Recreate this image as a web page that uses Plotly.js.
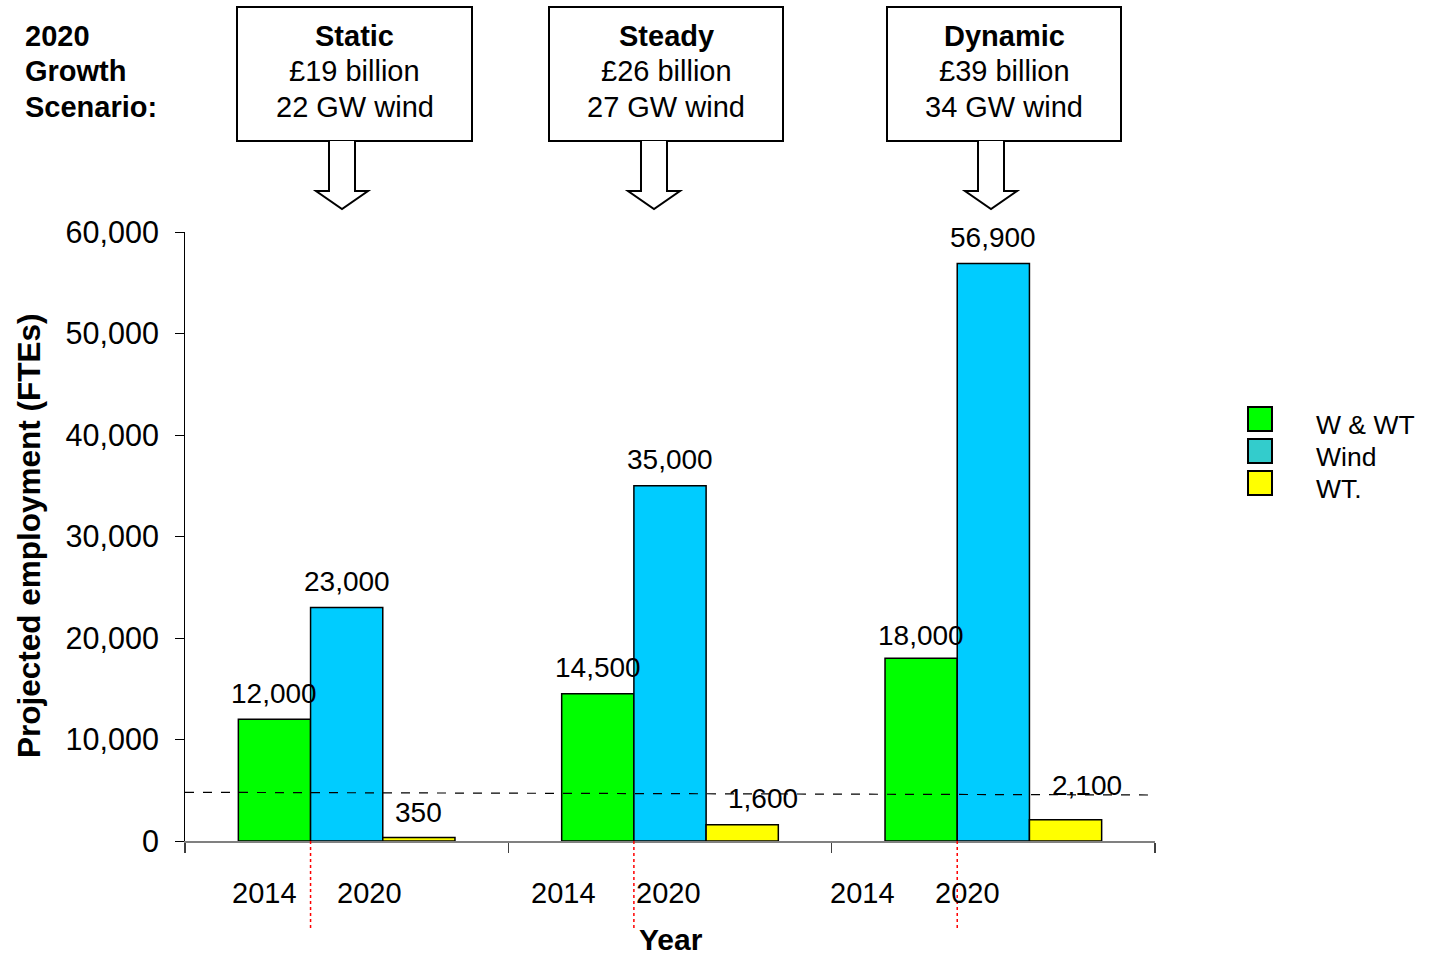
<!DOCTYPE html>
<html>
<head>
<meta charset="utf-8">
<script src="https://cdn.plot.ly/plotly-3.0.1.min.js"></script>
<style>html,body{margin:0;padding:0;background:#fff;}#chart{width:1430px;height:956px;}</style>
</head>
<body>
<div id="chart"></div>
<script>
// ---- data ----
const scenarios = ["Static", "Steady", "Dynamic"];
const scenarioCost = ["£19 billion", "£26 billion", "£39 billion"];
const scenarioWind = ["22 GW wind", "27 GW wind", "34 GW wind"];
const headerLines = ["2020", "Growth", "Scenario:"];
const seriesNames = ["W & WT", "Wind", "WT."];
const wwtValues = [12000, 14500, 18000];
const windValues = [23000, 35000, 56900];
const wtValues = [350, 1600, 2100];
const yearLabels2014 = ["2014", "2014", "2014"];
const yearLabels2020 = ["2020", "2020", "2020"];
const thresholdStart = 4800;
const thresholdEnd = 4530;

// ---- style ----
const FONT = "Liberation Sans, Arial, sans-serif";
const barColors = ["#00FF00", "#00CCFF", "#FFFF00"];
const legendColors = ["#00FF00", "#33CCCC", "#FFFF00"];
const W = 1430, H = 956;
const L = 185, R = 1155, T = 232, B = 841;
const px = v => (v - L) / (R - L);
const py = v => (B - v) / (B - T);
const bargap = 0.33;
const barW = (1 - bargap) / 3;
const lineY = [36, 71, 107];

const seriesValues = [wwtValues, windValues, wtValues];
const traces = seriesValues.map((vals, s) => ({
  type: "bar",
  name: seriesNames[s],
  x: scenarios,
  y: vals,
  marker: {color: barColors[s], line: {color: "#000", width: 1.5}},
  showlegend: false,
  hoverinfo: "x+y+name"
}));

const annotations = [];
const shapes = [];
const fmt = v => v.toLocaleString("en-US");
const labelXShift = [[0,0,0],[0,0,0],[0,21,21]];
const labelYShift = [[26,26,23],[26,26,26],[25,26,34]];
seriesValues.forEach((vals, s) => {
  vals.forEach((v, i) => {
    annotations.push({
      x: i + (s - 1) * barW, y: v, xref: "x", yref: "y",
      text: fmt(v), showarrow: false, xanchor: "center", yanchor: "middle",
      xshift: labelXShift[s][i], yshift: labelYShift[s][i],
      font: {family: FONT, size: 28, color: "#000"}
    });
  });
});

// year labels below axis
const y2014px = [264, 563, 862];
const y2020px = [369, 668, 967];
scenarios.forEach((c, i) => {
  annotations.push({x: px(y2014px[i]), y: py(893), xref: "paper", yref: "paper", text: yearLabels2014[i],
    showarrow: false, xanchor: "center", yanchor: "middle", font: {family: FONT, size: 29, color: "#000"}});
  annotations.push({x: px(y2020px[i]), y: py(893), xref: "paper", yref: "paper", text: yearLabels2020[i],
    showarrow: false, xanchor: "center", yanchor: "middle", font: {family: FONT, size: 29, color: "#000"}});
  // red dotted line at boundary of first and second bars
  shapes.push({type: "line", xref: "x", yref: "paper", x0: i - barW / 2, x1: i - barW / 2,
    y0: 0, y1: py(928), line: {color: "#FF0000", width: 1.5, dash: "dot"}});
});

// axis titles
annotations.push({x: px(671), y: py(939), xref: "paper", yref: "paper", text: "<b>Year</b>",
  showarrow: false, xanchor: "center", yanchor: "middle", font: {family: FONT, size: 30, color: "#000"}});
annotations.push({x: px(29), y: py(536), xref: "paper", yref: "paper", text: "<b>Projected employment (FTEs)</b>",
  textangle: -90, showarrow: false, xanchor: "center", yanchor: "middle", font: {family: FONT, size: 31.5, color: "#000"}});

// header (left)
headerLines.forEach((t, k) => {
  annotations.push({x: px(23), y: py(lineY[k]), xref: "paper", yref: "paper", text: "<b>" + t + "</b>",
    showarrow: false, xanchor: "left", yanchor: "middle", font: {family: FONT, size: 29, color: "#000"}});
});
// scenario boxes with arrows
const boxes = [[237, 472], [549, 783], [887, 1121]];
const arrowCx = [342, 654, 991];
boxes.forEach((b, i) => {
  shapes.push({type: "rect", xref: "paper", yref: "paper", x0: px(b[0]), x1: px(b[1]), y0: py(7), y1: py(141),
    line: {color: "#000", width: 2}, fillcolor: "rgba(0,0,0,0)"});
  const lines = ["<b>" + scenarios[i] + "</b>", scenarioCost[i], scenarioWind[i]];
  lines.forEach((t, k) => {
    annotations.push({x: px((b[0] + b[1]) / 2), y: py(lineY[k]), xref: "paper", yref: "paper",
      text: t, showarrow: false, xanchor: "center", yanchor: "middle",
      font: {family: FONT, size: 29, color: "#000"}});
  });
  const c = arrowCx[i];
  const pts = [[c - 13, 141], [c - 13, 191], [c - 26, 191], [c, 209], [c + 26, 191], [c + 13, 191], [c + 13, 141]];
  const path = "M " + pts.map(p => px(p[0]).toFixed(5) + "," + py(p[1]).toFixed(5)).join(" L ");
  shapes.push({type: "path", xref: "paper", yref: "paper", path: path, line: {color: "#000", width: 2}, fillcolor: "#fff"});
});

// threshold dashed line
shapes.push({type: "line", xref: "paper", yref: "y", x0: 0, x1: 1, y0: thresholdStart, y1: thresholdEnd,
  line: {color: "#000", width: 1.2, dash: "dash"}});

// custom legend
seriesNames.forEach((n, s) => {
  const top = 407 + 32 * s;
  shapes.push({type: "rect", xref: "paper", yref: "paper", x0: px(1248), x1: px(1272), y0: py(top), y1: py(top + 24),
    line: {color: "#000", width: 2}, fillcolor: legendColors[s]});
  annotations.push({x: px(1314), y: py(top + 18), xref: "paper", yref: "paper", text: n, showarrow: false,
    xanchor: "left", yanchor: "middle", font: {family: FONT, size: 26.5, color: "#000"}});
});

const layout = {
  width: W, height: H,
  margin: {l: L, r: W - R, t: T, b: H - B},
  paper_bgcolor: "#fff", plot_bgcolor: "#fff",
  barmode: "group", bargap: bargap, bargroupgap: 0,
  showlegend: false,
  font: {family: FONT, color: "#000"},
  xaxis: {type: "category", range: [-0.5, 2.5], showticklabels: false, ticks: "outside", tickson: "boundaries",
    ticklen: 10, tickcolor: "#404040", tickwidth: 1.5, showline: true, linecolor: "#808080", linewidth: 2,
    showgrid: false, zeroline: false, fixedrange: true},
  yaxis: {range: [0, 60000], dtick: 10000, tickformat: ",", ticks: "outside", ticklen: 9, tickcolor: "#000",
    tickwidth: 1, showline: true, linecolor: "#000", linewidth: 1, showgrid: false, zeroline: false,
    tickfont: {family: FONT, size: 30.5, color: "#000"}, ticklabelstandoff: 10, fixedrange: true},
  shapes: shapes,
  annotations: annotations
};

Plotly.newPlot("chart", traces, layout, {displayModeBar: false, staticPlot: true});
</script>
</body>
</html>
